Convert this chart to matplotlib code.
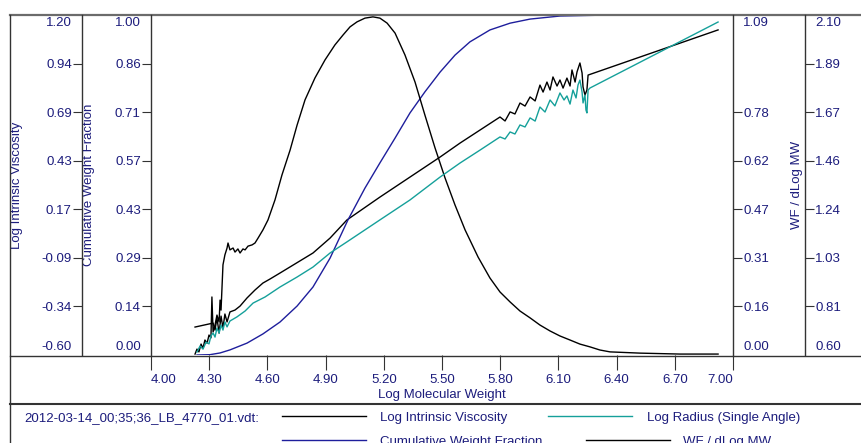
import matplotlib
matplotlib.use('Agg')
import matplotlib.pyplot as plt
import numpy as np
from matplotlib.lines import Line2D

plt.rcParams['font.family'] = ['Liberation Sans', 'DejaVu Sans']

# Log Intrinsic Viscosity
iv_logm = [4.227, 4.320, 4.330, 4.340, 4.351, 4.361, 4.371, 4.381, 4.392, 4.407,
           4.433, 4.459, 4.495, 4.536, 4.577, 4.613, 4.665, 4.742, 4.835, 4.923,
           5.010, 5.180, 5.335, 5.490, 5.593, 5.696, 5.799, 5.825, 5.851, 5.876,
           5.902, 5.928, 5.954, 5.980, 6.005, 6.021, 6.041, 6.057, 6.072, 6.093,
           6.108, 6.124, 6.144, 6.160, 6.170, 6.186, 6.196, 6.211, 6.222, 6.227,
           6.237, 6.247, 6.253, 6.923]
iv_vals = [-0.452, -0.431, -0.468, -0.404, -0.484, -0.394, -0.457, -0.383, -0.425, -0.372,
           -0.362, -0.341, -0.298, -0.256, -0.219, -0.198, -0.166, -0.118, -0.060, 0.019,
           0.115, 0.236, 0.342, 0.448, 0.522, 0.591, 0.660, 0.639, 0.687, 0.676,
           0.734, 0.718, 0.766, 0.745, 0.829, 0.792, 0.845, 0.803, 0.872, 0.824,
           0.856, 0.813, 0.866, 0.824, 0.909, 0.845, 0.899, 0.946, 0.893, 0.819,
           0.776, 0.803, 0.882, 1.121]

# Log Radius (Single Angle)
rad_logm = [4.237, 4.253, 4.268, 4.284, 4.299, 4.309, 4.320, 4.330, 4.340, 4.351,
            4.361, 4.371, 4.381, 4.392, 4.407, 4.443, 4.485, 4.526, 4.588, 4.665,
            4.753, 4.835, 4.923, 5.010, 5.180, 5.335, 5.490, 5.593, 5.696, 5.799,
            5.825, 5.851, 5.876, 5.902, 5.928, 5.954, 5.980, 6.005, 6.031, 6.057,
            6.082, 6.108, 6.129, 6.144, 6.160, 6.175, 6.191, 6.201, 6.211, 6.222,
            6.227, 6.237, 6.242, 6.247, 6.253, 6.263, 6.923]
rad_vals = [0.613, 0.640, 0.626, 0.657, 0.649, 0.684, 0.697, 0.679, 0.719, 0.697,
            0.732, 0.710, 0.746, 0.724, 0.750, 0.768, 0.794, 0.829, 0.856, 0.900,
            0.944, 0.988, 1.050, 1.099, 1.196, 1.284, 1.385, 1.447, 1.504, 1.562,
            1.553, 1.584, 1.575, 1.615, 1.606, 1.646, 1.632, 1.694, 1.672, 1.725,
            1.699, 1.756, 1.725, 1.743, 1.707, 1.769, 1.734, 1.791, 1.813, 1.760,
            1.712, 1.747, 1.681, 1.668, 1.769, 1.778, 2.069]

# Cumulative Weight Fraction
cum_logm = [4.237, 4.304, 4.356, 4.407, 4.495, 4.577, 4.665, 4.753, 4.835, 4.923,
            5.015, 5.103, 5.180, 5.258, 5.335, 5.412, 5.490, 5.567, 5.644, 5.747,
            5.851, 5.954, 6.108, 6.366]
cum_vals = [0.000, 0.001, 0.006, 0.015, 0.035, 0.062, 0.097, 0.144, 0.200, 0.285,
            0.397, 0.491, 0.565, 0.638, 0.712, 0.774, 0.832, 0.882, 0.921, 0.956,
            0.976, 0.988, 0.997, 1.000]

# WF / dLog MW
wf_logm = [4.227, 4.237, 4.247, 4.258, 4.268, 4.278, 4.289, 4.299, 4.309, 4.314,
           4.320, 4.330, 4.340, 4.351, 4.356, 4.361, 4.371, 4.381, 4.392, 4.397,
           4.407, 4.423, 4.433, 4.448, 4.459, 4.474, 4.485, 4.500, 4.521, 4.536,
           4.552, 4.577, 4.603, 4.639, 4.675, 4.717, 4.753, 4.794, 4.845, 4.897,
           4.948, 4.990, 5.026, 5.062, 5.103, 5.144, 5.180, 5.217, 5.258, 5.309,
           5.361, 5.412, 5.464, 5.516, 5.567, 5.619, 5.686, 5.747, 5.799, 5.851,
           5.902, 5.954, 6.005, 6.057, 6.108, 6.160, 6.211, 6.263, 6.314, 6.366,
           6.521, 6.727, 6.923]
wf_vals = [0.003, 0.019, 0.010, 0.035, 0.022, 0.048, 0.038, 0.064, 0.055, 0.186,
           0.074, 0.096, 0.128, 0.106, 0.176, 0.144, 0.289, 0.321, 0.343, 0.359,
           0.337, 0.343, 0.330, 0.340, 0.327, 0.340, 0.337, 0.349, 0.353, 0.359,
           0.375, 0.401, 0.433, 0.497, 0.577, 0.657, 0.737, 0.818, 0.888, 0.946,
           0.994, 1.026, 1.052, 1.068, 1.080, 1.084, 1.080, 1.064, 1.032, 0.962,
           0.875, 0.769, 0.664, 0.567, 0.481, 0.401, 0.314, 0.247, 0.202, 0.170,
           0.141, 0.119, 0.096, 0.077, 0.061, 0.048, 0.035, 0.026, 0.016, 0.010,
           0.006, 0.003, 0.003]

x_ticks = [4.00, 4.30, 4.60, 4.90, 5.20, 5.50, 5.80, 6.10, 6.40, 6.70, 7.00]
iv_labels = ['-0.60', '-0.34', '-0.09', '0.17', '0.43', '0.69', '0.94', '1.20']
cum_labels = ['0.00', '0.14', '0.29', '0.43', '0.57', '0.71', '0.86', '1.00']
wf_labels = ['0.00', '0.16', '0.31', '0.47', '0.62', '0.78', '', '1.09']
rad_labels = ['0.60', '0.81', '1.03', '1.24', '1.46', '1.67', '1.89', '2.10']

TXT = '#1c1c7c'
FRAME = '#555555'
W, H = 862, 443


def fx(px):
    return px / W


def fy(py):
    return 1 - py / H


fig = plt.figure(figsize=(8.62, 4.43), dpi=100)
ax = fig.add_axes([fx(151), fy(355), fx(733) - fx(151), fy(15) - fy(355)])
ax.set_xlim(4.0, 7.0)
ax.set_yticks([])
for s in ax.spines.values():
    s.set_visible(False)
ax.set_xticks(x_ticks)
ax.set_xticklabels(['%.2f' % v for v in x_ticks])
ax.tick_params(axis='x', direction='out', length=10.8, width=0.8, color='#333333',
               pad=3, labelsize=9.5, labelcolor=TXT)
xl = ax.get_xticklabels()
xl[0].set_ha('left')
xl[-1].set_ha('right')
ax.set_xlabel('Log Molecular Weight', fontsize=9.5, color=TXT)
ax.xaxis.label.set_va('center')
ax.xaxis.set_label_coords(0.5, (355 - 395) / 340)

ax_iv = ax.twinx()
ax_cum = ax.twinx()
ax_wf = ax.twinx()
ax_rad = ax.twinx()


def setup(a, side, pos_px, lo, hi, labels):
    # one y column: spine, inner ticks, end labels pushed inside
    a.set_ylim(lo, hi)
    for s in a.spines.values():
        s.set_visible(False)
    pos = (pos_px - 151) / 582
    a.spines[side].set_position(('axes', pos))
    a.yaxis.set_ticks_position(side)
    ticks = np.linspace(lo, hi, 8)
    keep = [i for i in range(1, 7) if labels[i]]
    a.set_yticks([ticks[i] for i in keep])
    a.set_yticklabels([labels[i] for i in keep])
    a.tick_params(axis='y', direction='out', length=6.5, width=0.8, color='#333333',
                  pad=0.8, labelsize=9.5, labelcolor=TXT)
    sign = -1 if side == 'left' else 1
    ha = 'right' if side == 'left' else 'left'
    for yy, lab, dy in [(0, labels[0], 5.8), (1, labels[-1], -5.8)]:
        a.annotate(lab, xy=(pos, yy), xycoords='axes fraction',
                   xytext=(sign * 7.3, dy), textcoords='offset points',
                   ha=ha, va='center', fontsize=9.5, color=TXT)


setup(ax_iv, 'left', 82, -0.60, 1.20, iv_labels)
setup(ax_cum, 'left', 151, 0.0, 1.0, cum_labels)
setup(ax_wf, 'right', 733, 0.0, 1.09, wf_labels)
setup(ax_rad, 'right', 805, 0.60, 2.10, rad_labels)

# axis titles
for a, px, text in [(ax_iv, 17, 'Log Intrinsic Viscosity'),
                    (ax_cum, 89, 'Cumulative Weight Fraction'),
                    (ax_wf, 797, 'WF / dLog MW')]:
    a.set_ylabel(text, fontsize=9.5, color=TXT, rotation=90)
    a.yaxis.label.set_va('center')
    a.yaxis.label.set_ha('center')
    a.yaxis.set_label_coords((px - 151) / 582, 0.5)

LW = 1.0
ax_cum.plot(cum_logm, cum_vals, color='#1e1e9c', lw=LW)
ax_wf.plot(wf_logm, wf_vals, color='black', lw=LW)
ax_iv.plot(iv_logm, iv_vals, color='black', lw=LW)
ax_rad.plot(rad_logm, rad_vals, color='#15a09a', lw=LW)

# frame lines
def hline(py, x0, x1, color=FRAME, lw=1.3):
    fig.add_artist(Line2D([fx(x0), fx(x1)], [fy(py), fy(py)], color=color, lw=lw,
                          transform=fig.transFigure))


def vline(px, y0, y1, color='#333333', lw=1.0):
    fig.add_artist(Line2D([fx(px), fx(px)], [fy(y0), fy(y1)], color=color, lw=lw,
                          transform=fig.transFigure))


hline(15, 10, 862, color='#6b6b6b', lw=1.6)
hline(355.5, 10, 862, color='#333333', lw=1.0)
hline(404, 10, 862, color='#333333', lw=1.5)
vline(10, 15, 443)
vline(82, 15, 355)
vline(151, 15, 356)
vline(733, 15, 356)
vline(805, 15, 355)

# legend
fig.text(fx(24), fy(418), '2012-03-14_00;35;36_LB_4770_01.vdt:', fontsize=9.5,
         color=TXT, va='center', ha='left')
legend_rows = [(282, 416, 'black', 380, 'Log Intrinsic Viscosity'),
               (548, 416, '#15a09a', 647, 'Log Radius (Single Angle)'),
               (282, 440, '#1e1e9c', 380, 'Cumulative Weight Fraction'),
               (586, 440, 'black', 683, 'WF / dLog MW')]
for x0, yy, col, tx, name in legend_rows:
    hline(yy, x0, x0 + 84, color=col, lw=1.0)
    fig.text(fx(tx), fy(yy + 2), name, fontsize=9.5, color=TXT, va='center', ha='left')

fig.savefig('out.png', dpi=100)
